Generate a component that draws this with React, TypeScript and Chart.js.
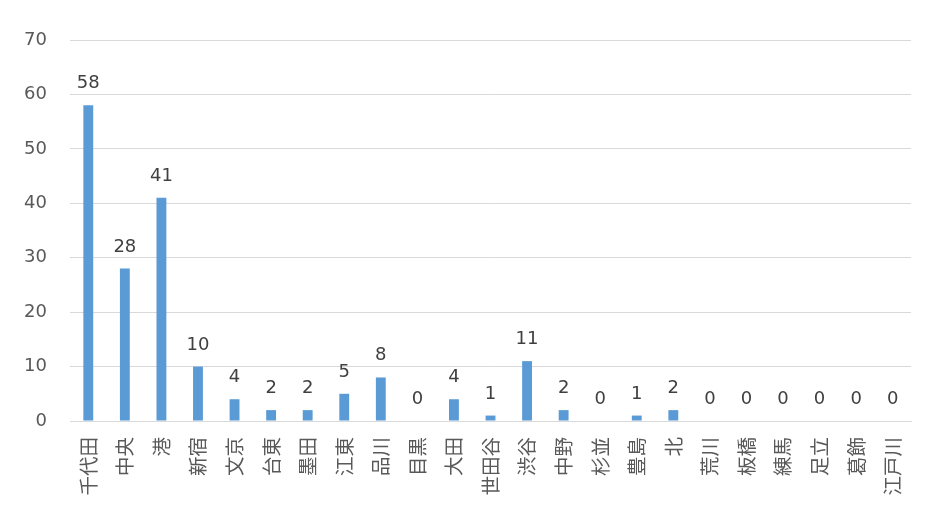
import React, { useEffect, useRef } from 'react';
import { Chart, registerables } from 'chart.js';

Chart.register(...registerables);

const wards = [
    '千代田', '中央', '港', '新宿', '文京', '台東', '墨田', '江東', '品川', '目黒',
    '大田', '世田谷', '渋谷', '中野', '杉並', '豊島', '北', '荒川', '板橋', '練馬',
    '足立', '葛飾', '江戸川',
];
const counts = [58, 28, 41, 10, 4, 2, 2, 5, 8, 0, 4, 1, 11, 2, 0, 1, 2, 0, 0, 0, 0, 0, 0];
const yTicks = [0, 10, 20, 30, 40, 50, 60, 70];

// draws the number above each bar
const valueLabels = {
    id: 'valueLabels',
    afterDatasetsDraw(chart: any) {
        const ctx = chart.ctx;
        const meta = chart.getDatasetMeta(0);
        ctx.save();
        ctx.font = '18px "DejaVu Sans"';
        ctx.fillStyle = '#404040';
        ctx.textAlign = 'center';
        ctx.textBaseline = 'alphabetic';
        meta.data.forEach((bar: any, i: number) => {
            ctx.fillText(String(counts[i]), bar.x, bar.y - 17);
        });
        ctx.restore();
    },
};

const App: React.FC = () => {
    const canvasRef = useRef<HTMLCanvasElement | null>(null);

    useEffect(() => {
        document.body.style.margin = '0';
        if (!canvasRef.current) return;
        const ctx = canvasRef.current.getContext('2d');
        if (!ctx) return;
        const chart = new Chart(ctx, {
            type: 'bar',
            data: {
                labels: wards,
                datasets: [{
                    data: counts,
                    backgroundColor: '#5B9BD5',
                    barPercentage: 0.27,
                    categoryPercentage: 1,
                }],
            },
            options: {
                responsive: false,
                animation: false,
                layout: { padding: { top: 40, right: 23, left: 0, bottom: 0 } },
                plugins: {
                    legend: { display: false },
                    tooltip: { enabled: false },
                },
                scales: {
                    x: {
                        grid: { display: false },
                        border: { display: true, color: '#d9d9d9', width: 1 },
                        ticks: {
                            autoSkip: false,
                            minRotation: 90,
                            maxRotation: 90,
                            padding: 8,
                            color: '#595959',
                            font: { family: '"Noto Sans CJK JP"', size: 19.5 },
                        },
                        afterFit(scale: any) { scale.height = 94; },
                    },
                    y: {
                        min: 0,
                        max: 70,
                        afterBuildTicks(scale: any) {
                            scale.ticks = yTicks.map((v) => ({ value: v }));
                        },
                        grid: { color: '#d9d9d9', drawTicks: false },
                        border: { display: false },
                        ticks: {
                            padding: 23,
                            color: '#595959',
                            font: { family: '"DejaVu Sans"', size: 18 },
                        },
                        afterFit(scale: any) { scale.width = 70; },
                    },
                },
            },
            plugins: [valueLabels],
        });
        return () => {
            chart.destroy();
        };
    }, []);

    return (
        <div style={{ width: 934, height: 515 }}>
            <canvas ref={canvasRef} width={934} height={515}></canvas>
        </div>
    );
};

export default App;
